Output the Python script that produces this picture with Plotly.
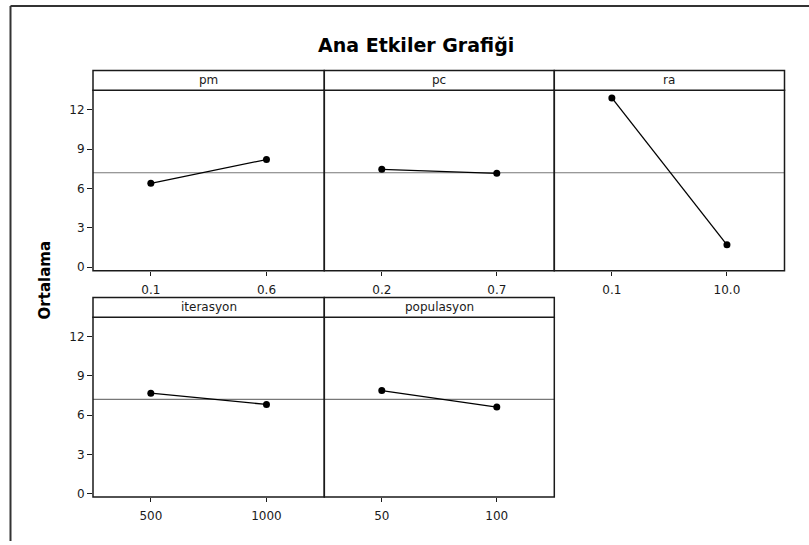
import plotly.graph_objects as go

# ---- data ----
factors = ["pm", "pc", "ra", "iterasyon", "populasyon"]
levels = [["0.1", "0.6"], ["0.2", "0.7"], ["0.1", "10.0"], ["500", "1000"], ["50", "100"]]
means = [[6.40, 8.21], [7.46, 7.16], [12.90, 1.71], [7.68, 6.82], [7.88, 6.62]]
grand_mean = 7.2
y_ticks = [0, 3, 6, 9, 12]
title_text = "Ana Etkiler Grafiği"
y_title = "Ortalama"

W, H = 809, 545
FONT = "DejaVu Sans"
INK = "#1a1a1a"

def px(x):
    return x / W

def py(y):
    return 1 - y / H

# panel pixel geometry
col_edges = [93, 324.3, 554.3, 784.5]
rows = [(91, 272.7), (319.7, 500.7)]
header_h = 20
panel_pos = [(0, 0), (0, 1), (0, 2), (1, 0), (1, 1)]

fig = go.Figure()
layout = dict(
    width=W, height=H,
    margin=dict(l=0, r=0, t=0, b=0),
    paper_bgcolor="white", plot_bgcolor="white",
    showlegend=False,
    font=dict(family=FONT, size=12, color=INK),
)
shapes = []
annotations = []

for i, (fac, lev, m) in enumerate(zip(factors, levels, means)):
    r, c = panel_pos[i]
    x0, x1 = col_edges[c], col_edges[c + 1]
    top, bot = rows[r]
    n = i + 1
    xa = "xaxis" if n == 1 else f"xaxis{n}"
    ya = "yaxis" if n == 1 else f"yaxis{n}"
    xr = "x" if n == 1 else f"x{n}"
    yr = "y" if n == 1 else f"y{n}"
    layout[xa] = dict(
        domain=[px(x0), px(x1)], anchor=yr, type="category",
        categoryorder="array", categoryarray=lev,
        range=[-0.5, 1.5], showgrid=False, zeroline=False, showline=False,
        ticks="outside", ticklen=4, tickwidth=1, tickcolor=INK,
        ticklabelstandoff=4,
        tickfont=dict(family=FONT, size=12, color=INK),
        fixedrange=True,
    )
    show_y = (c == 0)
    layout[ya] = dict(
        domain=[py(bot), py(top)], anchor=xr,
        range=[-0.26, 13.48], showgrid=False, zeroline=False, showline=False,
        tickvals=y_ticks, ticktext=[str(t) for t in y_ticks],
        ticks="outside" if show_y else "", ticklen=5, tickwidth=1,
        tickcolor=INK,
        showticklabels=show_y,
        tickfont=dict(family=FONT, size=12, color=INK),
        fixedrange=True,
    )
    # grand mean reference line
    shapes.append(dict(type="line", xref=f"{xr} domain", yref=yr,
                       x0=0, x1=1, y0=grand_mean, y1=grand_mean,
                       line=dict(color="#777777", width=1.2), layer="below"))
    # panel frame
    shapes.append(dict(type="rect", xref="paper", yref="paper",
                       x0=px(x0), x1=px(x1), y0=py(bot), y1=py(top),
                       line=dict(color=INK, width=1.5), layer="above"))
    # header strip
    shapes.append(dict(type="rect", xref="paper", yref="paper",
                       x0=px(x0), x1=px(x1), y0=py(top), y1=py(top - header_h),
                       line=dict(color=INK, width=1.5), fillcolor="white"))
    annotations.append(dict(text=fac, xref="paper", yref="paper",
                            x=px((x0 + x1) / 2), y=py(top - header_h / 2),
                            showarrow=False, xanchor="center", yanchor="middle",
                            font=dict(family=FONT, size=12, color=INK)))
    fig.add_trace(go.Scatter(
        x=lev, y=m, xaxis=xr, yaxis=yr, mode="lines+markers",
        line=dict(color="black", width=1.3),
        marker=dict(color="black", size=7),
        cliponaxis=False,
    ))

# outer frame (left and top edges)
shapes.append(dict(type="line", xref="paper", yref="paper",
                   x0=px(10.5), x1=px(10.5), y0=0, y1=py(6),
                   line=dict(color="#333333", width=2)))
shapes.append(dict(type="line", xref="paper", yref="paper",
                   x0=px(10.5), x1=1, y0=py(6), y1=py(6),
                   line=dict(color="#333333", width=2)))

annotations.append(dict(text=f"<b>{title_text}</b>", xref="paper", yref="paper",
                        x=px(416), y=py(45), showarrow=False,
                        xanchor="center", yanchor="middle",
                        font=dict(family=FONT, size=19, color="black")))
annotations.append(dict(text=f"<b>{y_title}</b>", xref="paper", yref="paper",
                        x=px(44.5), y=py(283), showarrow=False, textangle=-90,
                        xanchor="center", yanchor="middle",
                        font=dict(family=FONT, size=15, color="black")))

layout["shapes"] = shapes
layout["annotations"] = annotations
fig.update_layout(**layout)
fig.write_html("out.html")
